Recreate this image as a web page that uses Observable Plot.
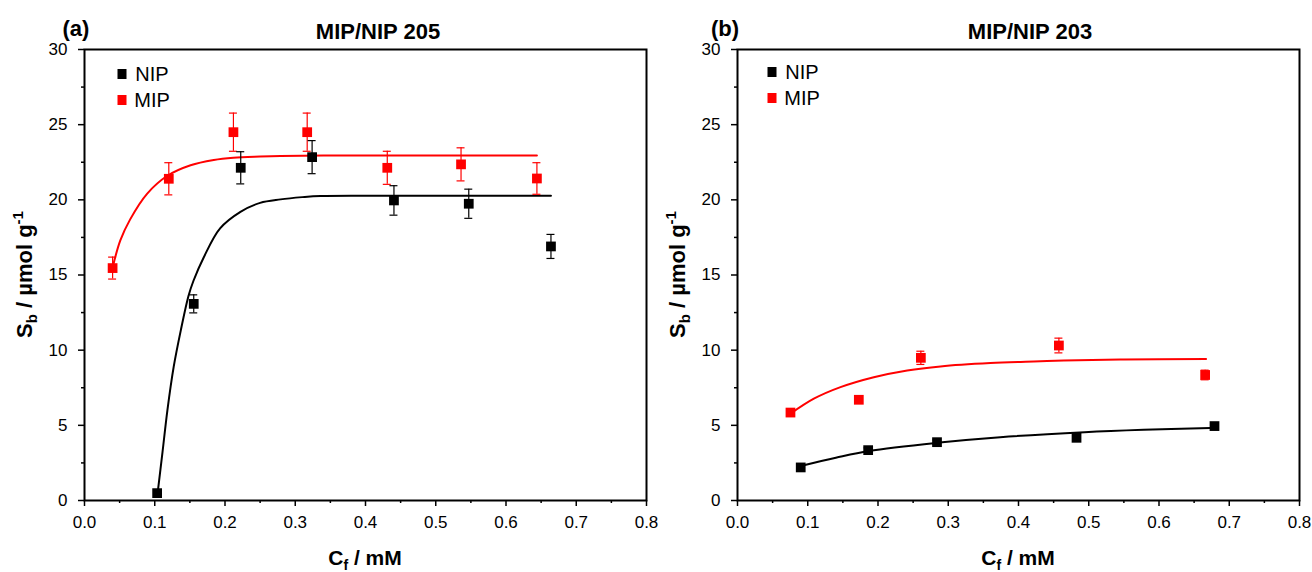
<!DOCTYPE html>
<html>
<head>
<meta charset="utf-8">
<script src="https://cdn.jsdelivr.net/npm/d3@7"></script>
<script src="https://cdn.jsdelivr.net/npm/@observablehq/plot@0.6"></script>
<style>
  html, body { margin: 0; padding: 0; background: #fff; }
  #wrap { display: flex; width: 1312px; height: 572px; overflow: hidden; }
  svg { display: block; overflow: visible; }
</style>
</head>
<body>
<div id="wrap"></div>
<script>
// ---------- Data ----------
const seriesNames = ["NIP", "MIP"];
const seriesColors = ["#000000", "#ff0000"];
const panelLetters = ["(a)", "(b)"];
const panelTitles = ["MIP/NIP 205", "MIP/NIP 203"];
const xTicks = [0, 0.1, 0.2, 0.3, 0.4, 0.5, 0.6, 0.7, 0.8];
const xMinorTicks = [0.05, 0.15, 0.25, 0.35, 0.45, 0.55, 0.65, 0.75];
const yTicks = [0, 5, 10, 15, 20, 25, 30];
const yMinorTicks = [2.5, 7.5, 12.5, 17.5, 22.5, 27.5];

// Panel (a) MIP/NIP 205
const aNipX = [0.1034, 0.1555, 0.2224, 0.324, 0.4405, 0.547, 0.664];
const aNipY = [0.49, 13.08, 22.13, 22.84, 19.96, 19.74, 16.9];
const aNipE = [0, 0.6, 1.07, 1.1, 0.98, 0.97, 0.8];
const aMipX = [0.040, 0.120, 0.212, 0.317, 0.431, 0.536, 0.644];
const aMipY = [15.46, 21.4, 24.5, 24.5, 22.13, 22.36, 21.42];
const aMipE = [0.73, 1.07, 1.27, 1.27, 1.1, 1.1, 1.05];
const aNipFitX = [0.104, 0.111, 0.118, 0.127, 0.137, 0.148, 0.155, 0.170, 0.193, 0.222, 0.250, 0.279, 0.310, 0.336, 0.450, 0.550, 0.664];
const aNipFitY = [0.45, 3.2, 6.0, 8.9, 11.3, 13.6, 14.6, 16.2, 18.1, 19.2, 19.8, 20.03, 20.18, 20.26, 20.27, 20.27, 20.27];
const aMipFitX = [0.040, 0.051, 0.065, 0.089, 0.118, 0.151, 0.184, 0.212, 0.250, 0.279, 0.350, 0.450, 0.550, 0.644];
const aMipFitY = [15.5, 17.3, 18.7, 20.4, 21.6, 22.3, 22.65, 22.8, 22.88, 22.92, 22.95, 22.95, 22.95, 22.95];

// Panel (b) MIP/NIP 203
const bNipX = [0.090, 0.186, 0.284, 0.4826, 0.679];
const bNipY = [2.2, 3.35, 3.88, 4.17, 4.95];
const bNipE = [0.1, 0.15, 0.15, 0.15, 0.15];
const bMipX = [0.0754, 0.1727, 0.261, 0.4575, 0.6657];
const bMipY = [5.85, 6.7, 9.49, 10.31, 8.35];
const bMipE = [0.15, 0.2, 0.44, 0.49, 0.32];
const bNipFitX = [0.090, 0.140, 0.187, 0.284, 0.374, 0.494, 0.578, 0.673];
const bNipFitY = [2.3, 2.85, 3.3, 3.84, 4.21, 4.54, 4.70, 4.83];
const bMipFitX = [0.0754, 0.1087, 0.1466, 0.194, 0.2416, 0.289, 0.360, 0.4218, 0.4645, 0.55, 0.667];
const bMipFitY = [5.77, 6.77, 7.54, 8.2, 8.65, 8.92, 9.14, 9.25, 9.31, 9.38, 9.42];

// ---------- Build ----------
const zip3 = (xs, ys, es) => xs.map((x, i) => ({x, y: ys[i], e: es ? es[i] : 0}));
const FONT = "'Liberation Sans', Arial, Helvetica, sans-serif";

const panels = [
  {
    width: 672, marginLeft: 84, marginRight: 26,
    nip: zip3(aNipX, aNipY, aNipE), mip: zip3(aMipX, aMipY, aMipE),
    nipFit: zip3(aNipFitX, aNipFitY), mipFit: zip3(aMipFitX, aMipFitY),
    letterDx: -8, titleDx: 13, legendDx: 38
  },
  {
    width: 640, marginLeft: 65, marginRight: 13,
    nip: zip3(bNipX, bNipY, bNipE), mip: zip3(bMipX, bMipY, bMipE),
    nipFit: zip3(bNipFitX, bNipFitY), mipFit: zip3(bMipFitX, bMipFitY),
    letterDx: -12, titleDx: 12, legendDx: 35
  }
];

const H = 572, MT = 49, MB = 72;

panels.forEach((p, pi) => {
  const errMarks = (data, color) => [
    Plot.ruleX(data.filter(d => d.e > 0), {x: "x", y1: d => d.y - d.e, y2: d => d.y + d.e, stroke: color, strokeWidth: 1.2}),
    Plot.ruleY(data.filter(d => d.e > 0), {y: d => d.y + d.e, x1: "x", x2: "x", insetLeft: -4, insetRight: -4, stroke: color, strokeWidth: 1.2}),
    Plot.ruleY(data.filter(d => d.e > 0), {y: d => d.y - d.e, x1: "x", x2: "x", insetLeft: -4, insetRight: -4, stroke: color, strokeWidth: 1.2})
  ];
  const svg = Plot.plot({
    width: p.width, height: H,
    marginLeft: p.marginLeft, marginRight: p.marginRight, marginTop: MT, marginBottom: MB,
    style: {fontFamily: FONT, fontSize: "17px", color: "#000", background: "transparent", overflow: "visible"},
    x: {domain: [0, 0.8]},
    y: {domain: [0, 30]},
    marks: [
      Plot.axisX({ticks: xMinorTicks, tickSize: 3, text: null, strokeWidth: 1.5, label: null}),
      Plot.axisX({ticks: xTicks, tickSize: 6, tickPadding: 9, tickFormat: d3.format(".1f"), fontSize: 17, strokeWidth: 1.5, label: null}),
      Plot.axisY({ticks: yMinorTicks, tickSize: 3, text: null, strokeWidth: 1.5, label: null}),
      Plot.axisY({ticks: yTicks, tickSize: 6, tickPadding: 11, tickFormat: d3.format("d"), fontSize: 17, strokeWidth: 1.5, label: null}),
      Plot.line(p.mipFit, {x: "x", y: "y", stroke: seriesColors[1], strokeWidth: 2, curve: "catmull-rom"}),
      Plot.line(p.nipFit, {x: "x", y: "y", stroke: seriesColors[0], strokeWidth: 2, curve: "catmull-rom"}),
      ...errMarks(p.mip, seriesColors[1]),
      ...errMarks(p.nip, seriesColors[0]),
      Plot.dot(p.mip, {x: "x", y: "y", symbol: "square", r: 5.5, fill: seriesColors[1], stroke: "none"}),
      Plot.dot(p.nip, {x: "x", y: "y", symbol: "square", r: 5.5, fill: seriesColors[0], stroke: "none"}),
      Plot.frame({stroke: "#000", strokeWidth: 2})
    ]
  });

  const s = d3.select(svg);
  const left = p.marginLeft, right = p.width - p.marginRight;
  const top = MT, bottom = H - MB;
  const cx = (left + right) / 2, cy = (top + bottom) / 2;

  // panel letter & title
  s.append("text").attr("x", left + p.letterDx).attr("y", 36).attr("font-family", FONT)
    .attr("font-size", 22).attr("font-weight", "bold").attr("fill", "#000").text(panelLetters[pi]);
  s.append("text").attr("x", cx + p.titleDx).attr("y", 39).attr("text-anchor", "middle").attr("font-family", FONT)
    .attr("font-size", 22).attr("font-weight", "bold").attr("fill", "#000").text(panelTitles[pi]);

  // x label: C_f / mM
  const xl = s.append("text").attr("x", cx).attr("y", 565).attr("text-anchor", "middle").attr("font-family", FONT)
    .attr("font-size", 21).attr("font-weight", "bold").attr("fill", "#000");
  xl.append("tspan").text("C");
  xl.append("tspan").attr("font-size", 14).attr("dy", 5).text("f");
  xl.append("tspan").attr("dy", -5).text(" / mM");

  // y label: S_b / µmol g^-1
  const yl = s.append("text").attr("transform", `translate(${left - 52},${cy}) rotate(-90)`).attr("text-anchor", "middle")
    .attr("font-family", FONT).attr("font-size", 22).attr("font-weight", "bold").attr("fill", "#000");
  yl.append("tspan").text("S");
  yl.append("tspan").attr("font-size", 15).attr("dy", 5).text("b");
  yl.append("tspan").attr("dy", -5).text(" / \u00b5mol g");
  yl.append("tspan").attr("font-size", 15).attr("dy", -9).text("-1");

  // legend
  seriesNames.forEach((name, i) => {
    const ly = 74 + i * 26 - (pi === 1 ? 2 : 0);
    s.append("rect").attr("x", left + p.legendDx - 4.5).attr("y", ly - 5).attr("width", 9).attr("height", 10)
      .attr("fill", seriesColors[i]);
    s.append("text").attr("x", left + p.legendDx + 30).attr("y", ly + 7).attr("font-family", FONT)
      .attr("font-size", 20).attr("fill", "#000").text(name);
  });

  document.getElementById("wrap").appendChild(svg);
});
</script>
</body>
</html>
